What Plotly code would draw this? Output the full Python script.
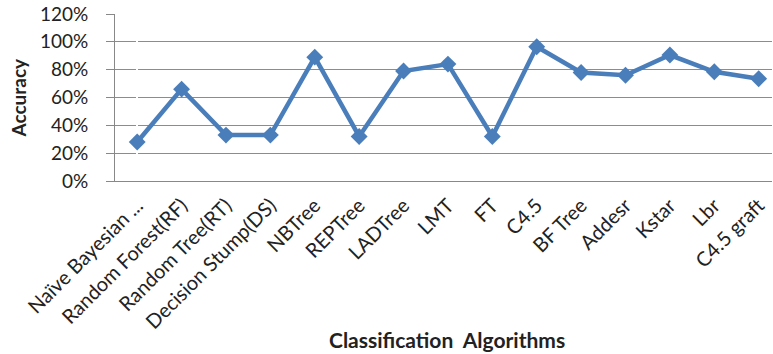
import plotly.graph_objects as go

categories = ["Naïve Bayesian ...", "Random Forest(RF)", "Random Tree(RT)", "Decision Stump(DS)",
              "NBTree", "REPTree", "LADTree", "LMT", "FT", "C4.5", "BF Tree", "Addesr",
              "Kstar", "Lbr", "C4.5 graft"]
accuracy = [0.28, 0.66, 0.33, 0.33, 0.89, 0.32, 0.79, 0.84, 0.32, 0.965, 0.78, 0.76, 0.905, 0.785, 0.735]
y_ticks = [0, 0.2, 0.4, 0.6, 0.8, 1.0, 1.2]

FONT = "Lato"
W, H = 773, 354
L, R, T, B = 115, 1, 14, 173
PW, PH = W - L - R, H - T - B

fig = go.Figure()
fig.add_trace(go.Scatter(
    x=list(range(len(categories))), y=accuracy, mode="lines+markers",
    line=dict(color="#4a7ebb", width=4.5),
    marker=dict(symbol="diamond", size=13, color="#4a7ebb"),
))
fig.update_layout(
    width=W, height=H,
    margin=dict(l=L, r=R, t=T, b=B),
    paper_bgcolor="white", plot_bgcolor="white",
    showlegend=False,
    font=dict(family=FONT, color="#222"),
)
fig.update_xaxes(
    tickmode="array", tickvals=list(range(len(categories))), ticktext=categories,
    range=[-0.5, 14.3], tickangle=-45, tickfont=dict(size=20, family=FONT),
    showgrid=False, showline=True, linecolor="#888", linewidth=1, ticks="",
    ticklabelstandoff=4, automargin=False, ticklabeloverflow="allow",
)
fig.update_yaxes(
    range=[0, 1.2], tickvals=y_ticks, tickformat=".0%",
    tickfont=dict(size=19, family=FONT),
    showgrid=True, gridcolor="#8c8c8c", gridwidth=1,
    showline=True, linecolor="#888", linewidth=1,
    ticks="outside", ticklen=8, tickcolor="#888", ticklabelstandoff=14,
    zeroline=False, automargin=False, ticklabeloverflow="allow",
)
fig.add_annotation(
    text="<b>Classification  Algorithms</b>", xref="paper", yref="paper",
    x=(447 - L) / PW, y=-(339 - (T + PH)) / PH, xanchor="center", yanchor="middle",
    showarrow=False, font=dict(size=21, family=FONT, color="#222"),
)
fig.add_annotation(
    text="<b>Accuracy</b>", xref="paper", yref="paper",
    x=(18 - L) / PW, y=0.5, xanchor="center", yanchor="middle", textangle=-90,
    showarrow=False, font=dict(size=19, family=FONT, color="#222"),
)
fig.write_html("out.html", config={"displayModeBar": False},
               post_script="document.body.style.margin='0';")
